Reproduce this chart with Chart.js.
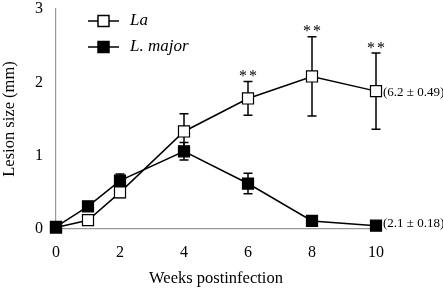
<!DOCTYPE html>
<html><head><meta charset="utf-8">
<script src="https://cdn.jsdelivr.net/npm/chart.js@4/dist/chart.umd.min.js"></script>
<style>html,body{margin:0;padding:0;background:#fff}#wrap{width:443px;height:291px}</style>
</head><body><div id="wrap"><canvas id="c" width="443" height="291"></canvas></div>
<script>
const weeks = [0, 1, 2, 4, 6, 8, 10];
const laMean = [0.02, 0.12, 0.50, 1.33, 1.78, 2.08, 1.88];
const laErr = [0.00, 0.05, 0.07, 0.24, 0.23, 0.54, 0.52];
const majorMean = [0.03, 0.31, 0.66, 1.06, 0.62, 0.11, 0.045];
const majorErr = [0.00, 0.04, 0.09, 0.12, 0.14, 0.00, 0.00];
const sigWeeks = [6, 8, 10];
const sigLabel = '**';
const endLabels = ['(6.2 \u00b1 0.49)', '(2.1 \u00b1 0.18)'];
const seriesNames = ['La', 'L. major'];
const xTicks = [0, 2, 4, 6, 8, 10];
const yTicks = [0, 1, 2, 3];
const SERIF = '"Liberation Serif", "DejaVu Serif", serif';

const errPlugin = {
  id: 'err',
  beforeDatasetsDraw(chart) {
    const ctx = chart.ctx, xs = chart.scales.x, ys = chart.scales.y;
    ctx.save();
    ctx.strokeStyle = '#000'; ctx.lineWidth = 1.5;
    [[laMean, laErr], [majorMean, majorErr]].forEach(([m, e]) => {
      weeks.forEach((w, i) => {
        if (!e[i]) return;
        const x = xs.getPixelForValue(w);
        const y1 = ys.getPixelForValue(m[i] + e[i]);
        const y2 = ys.getPixelForValue(m[i] - e[i]);
        ctx.beginPath();
        ctx.moveTo(x, y1); ctx.lineTo(x, y2);
        ctx.moveTo(x - 4.5, y1); ctx.lineTo(x + 4.5, y1);
        ctx.moveTo(x - 4.5, y2); ctx.lineTo(x + 4.5, y2);
        ctx.stroke();
      });
    });
    ctx.restore();
  },
  afterDraw(chart) {
    const ctx = chart.ctx, xs = chart.scales.x, ys = chart.scales.y;
    ctx.save();
    ctx.fillStyle = '#000';
    ctx.font = '16px ' + SERIF;
    ctx.textAlign = 'center'; ctx.textBaseline = 'alphabetic';
    ctx.letterSpacing = '2px';
    sigWeeks.forEach(w => {
      const i = weeks.indexOf(w);
      const x = xs.getPixelForValue(w);
      const y = ys.getPixelForValue(laMean[i] + laErr[i]);
      ctx.fillText(sigLabel, x + 1, y - 0.5);
    });
    ctx.letterSpacing = '0px';
    ctx.font = '13px ' + SERIF;
    ctx.textAlign = 'left'; ctx.textBaseline = 'middle';
    const last = weeks.length - 1;
    const xl = xs.getPixelForValue(weeks[last]) + 7;
    ctx.fillText(endLabels[0], xl, ys.getPixelForValue(laMean[last]) + 1);
    ctx.fillText(endLabels[1], xl, ys.getPixelForValue(majorMean[last]) - 2);
    // legend
    const items = [{name: seriesNames[0], fill: '#fff'}, {name: seriesNames[1], fill: '#000'}];
    items.forEach((it, k) => {
      const y = 21 + k * 26;
      ctx.strokeStyle = '#000'; ctx.lineWidth = 1.5;
      ctx.beginPath(); ctx.moveTo(88, y); ctx.lineTo(119, y); ctx.stroke();
      ctx.fillStyle = it.fill;
      ctx.fillRect(98, y - 5.5, 11, 11);
      ctx.strokeRect(98, y - 5.5, 11, 11);
      ctx.fillStyle = '#000';
      ctx.font = 'italic 17px ' + SERIF;
      ctx.textAlign = 'left'; ctx.textBaseline = 'middle';
      ctx.fillText(it.name, 130, y);
    });
    ctx.restore();
  }
};

new Chart(document.getElementById('c'), {
  type: 'line',
  data: {
    datasets: [
      {
        label: seriesNames[1],
        data: weeks.map((w, i) => ({x: w, y: majorMean[i]})),
        borderColor: '#000', borderWidth: 1.5,
        pointStyle: 'rect', pointRadius: 7.8,
        pointBackgroundColor: '#000', pointBorderColor: '#000', pointBorderWidth: 1.2,
        tension: 0, clip: false
      },
      {
        label: seriesNames[0],
        data: weeks.map((w, i) => ({x: w, y: laMean[i]})),
        borderColor: '#000', borderWidth: 1.5,
        pointStyle: 'rect', pointRadius: 7.8,
        pointBackgroundColor: '#fff', pointBorderColor: '#000', pointBorderWidth: 1.2,
        tension: 0, clip: false
      }
    ]
  },
  options: {
    responsive: false, animation: false,
    devicePixelRatio: 1,
    layout: {padding: {top: 6, right: 67, left: 0, bottom: 0}},
    plugins: {legend: {display: false}, tooltip: {enabled: false}},
    scales: {
      x: {
        type: 'linear', min: 0, max: 10,
        afterBuildTicks(s) { s.ticks = xTicks.map(v => ({value: v})); },
        grid: {display: false, drawTicks: false},
        border: {color: '#999', width: 1.2},
        ticks: {color: '#000', font: {family: SERIF, size: 16}, padding: 14},
        title: {display: true, text: 'Weeks postinfection', color: '#000', font: {family: SERIF, size: 16.5}, padding: {top: 10, bottom: 2}},
        afterFit(s) { s.height = 62; s.paddingLeft = 0; s.paddingRight = 0; }
      },
      y: {
        type: 'linear', min: 0, max: 3,
        afterBuildTicks(s) { s.ticks = yTicks.map(v => ({value: v})); },
        grid: {display: false, drawOnChartArea: false, tickLength: 3, tickColor: '#999'},
        border: {color: '#999', width: 1.2},
        ticks: {color: '#000', font: {family: SERIF, size: 16}, padding: 10},
        title: {display: true, text: 'Lesion size (mm)', color: '#000', font: {family: SERIF, size: 16.5}, padding: {top: 0, bottom: 2}},
        afterFit(s) { s.width = 56; s.paddingTop = 0; s.paddingBottom = 0; }
      }
    }
  },
  plugins: [errPlugin]
});
</script></body></html>
